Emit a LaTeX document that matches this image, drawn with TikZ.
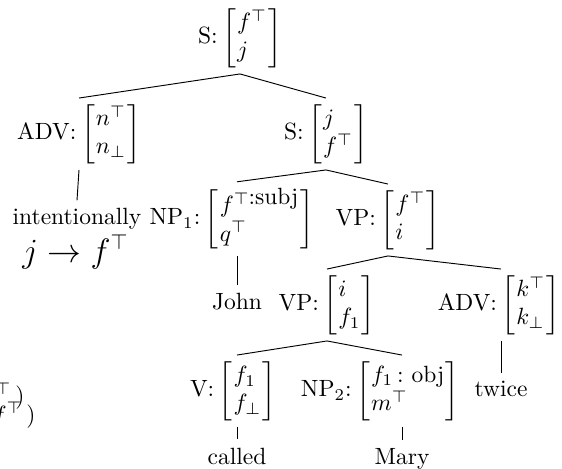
\documentclass[tikz,border=0pt]{standalone}
\usepackage{amsmath}
\usepackage{graphicx}
% vertically squeezed \Bigg brackets
\newcommand\lbrk{\vcenter{\hbox{\scalebox{1}[0.84]{$\Biggl[$}}}}
\newcommand\rbrk{\vcenter{\hbox{\scalebox{1}[0.84]{$\Biggr]$}}}}
% category label followed by a two-row, left-aligned feature matrix
\newcommand\featbox[3]{#1:\hspace{2pt}$\lbrk\begin{array}{@{\hspace{0.5pt}}l@{\hspace{0.5pt}}} #2 \\ #3 \end{array}\rbrk$}
\begin{document}
\begin{tikzpicture}[x=0.42553pt,y=-0.42553pt,
  cat/.style={inner sep=2.5pt},
  leaf/.style={anchor=base},
  tail/.style={anchor=base east, inner sep=0pt}]
\clip (0,0) rectangle (562,469);

% tree nodes
\node[cat] (root) at (240,38)  {\featbox{S}{f^\top}{j}};
\node[cat] (advn) at (79,134)  {\featbox{ADV}{n^\top}{n_\bot}};
\node[cat] (sj)   at (326,134) {\featbox{S}{j}{f^\top}};
\node[cat] (np1)  at (232,219) {\featbox{NP$_1$}{f^{\top\mbox{:subj}}}{q^\top}};
\node[cat] (vpfi) at (388,220) {\featbox{VP}{f^\top}{i}};
\node[cat] (vpif) at (327,305) {\featbox{VP}{i}{f_1}};
\node[cat] (advk) at (499,305) {\featbox{ADV}{k^\top}{k_\bot}};
\node[cat] (v)    at (233,391) {\featbox{V}{f_1}{f_\bot}};
\node[cat] (np2)  at (380,391) {\featbox{NP$_2$}{f_1\,\text{:\ obj}}{m^\top}};

% words
\node[leaf] (intent) at (77,225)  {intentionally};
\node[leaf] (john)   at (237,310) {John};
\node[leaf] (twice)  at (501,397) {twice};
\node[leaf] (called) at (237,464) {called};
\node[leaf] (mary)   at (402,464) {Mary};

% meaning constructor and the ends of two premises at the left margin
\node[anchor=base west, inner sep=0pt] (rule) at (22,262)
  {\fontsize{13.5}{16}\selectfont $j\to f^\top$};
\node[tail] (tailA) at (25,403) {${}^\top\,)$};
\node[tail] (tailB) at (36,422) {$f^\top\,)$};

% branches
\draw (root.south) -- (advn.north);
\draw (root.south) -- (sj.north);
\draw (sj.south) -- (np1.north -| john.north);
\draw (sj.south) -- (vpfi.north);
\draw (vpfi.south) -- (vpif.north);
\draw (vpfi.south) -- (advk.north -| twice.north);
\draw (vpif.south) -- (v.north -| called.north);
\draw (vpif.south) -- (np2.north -| mary.north);

% lexical links
\draw (advn.south) -- (intent.north);
\draw (np1.south -| john.north) -- (john.north);
\draw (advk.south -| twice.north) -- (twice.north);
\draw (v.south -| called.north) -- (called.north);
\draw (np2.south -| mary.north) -- (mary.north);
\end{tikzpicture}
\end{document}
